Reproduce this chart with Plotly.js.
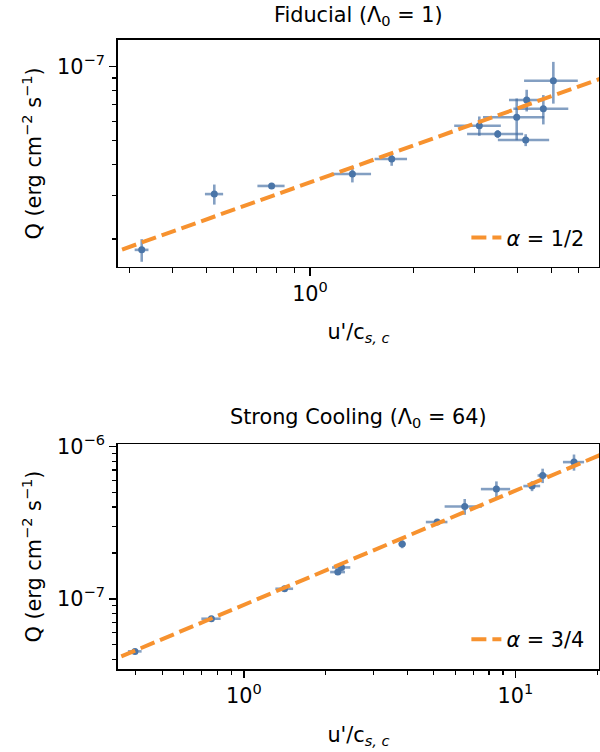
<!DOCTYPE html>
<html>
<head>
<meta charset="utf-8">
<script src="https://cdn.plot.ly/plotly-3.0.1.min.js"></script>
<style>html,body{margin:0;padding:0;background:#fff;}#chart{width:600px;height:752px;}</style>
</head>
<body>
<div id="chart"></div>
<script>
// ---------- Data: Fiducial (Lambda_0 = 1) ----------
const fidX    = [0.3253, 0.528, 0.774, 1.327, 1.725, 3.096, 3.50, 3.973, 4.219, 4.247, 4.746, 5.074];
const fidXerr = [0.015, 0.032, 0.07, 0.176, 0.186, 0.478, 0.647, 0.80, 0.715, 0.473, 0.86, 0.90];
const fidY    = [1.805e-8, 3.04e-8, 3.28e-8, 3.67e-8, 4.22e-8, 5.76e-8, 5.33e-8, 6.23e-8, 5.04e-8, 7.32e-8, 6.75e-8, 8.77e-8];
const fidYerr = [0.19e-8, 0.284e-8, 0.06e-8, 0.28e-8, 0.26e-8, 0.52e-8, 0.2e-8, 1.2e-8, 0.28e-8, 0.74e-8, 0.92e-8, 1.69e-8];
const fidAlpha = 0.5;
const fidAmp   = 3.39e-8;
const fidLineX = [0.25, 8];
const fidLabel = '<i>α</i> = 1/2';
const fidTitle = 'Fiducial (Λ<sub>0</sub> = 1)';

// ---------- Data: Strong Cooling (Lambda_0 = 64) ----------
const scX    = [0.397, 0.759, 1.412, 2.218, 2.289, 3.828, 5.15, 6.508, 8.514, 11.52, 12.6, 16.44];
const scXerr = [0.023, 0.062, 0.106, 0.14, 0.177, 0.12, 0.47, 1.02, 1.05, 0.82, 0.53, 1.47];
const scY    = [4.51e-8, 7.39e-8, 1.163e-7, 1.497e-7, 1.605e-7, 2.286e-7, 3.19e-7, 4.04e-7, 5.25e-7, 5.50e-7, 6.45e-7, 7.90e-7];
const scYerr = [0.1e-8, 0.15e-8, 0.25e-8, 0.05e-7, 0.06e-7, 0.14e-7, 0.1e-7, 0.48e-7, 0.65e-7, 0.41e-7, 0.7e-7, 0.96e-7];
const scAlpha = 0.75;
const scAmp   = 9.12e-8;
const scLineX = [0.3, 25];
const scLabel = '<i>α</i> = 3/4';
const scTitle = 'Strong Cooling (Λ<sub>0</sub> = 64)';

// ---------- Tick labels ----------
const topXTicks = [1], topXText = ['10<sup>0</sup>'];
const topYTicks = [1e-7], topYText = ['10<sup>−7</sup>'];
const botXTicks = [1, 10], botXText = ['10<sup>0</sup>', '10<sup>1</sup>'];
const botYTicks = [1e-7, 1e-6], botYText = ['10<sup>−7</sup>', '10<sup>−6</sup>'];
const xLabel = "u'/c<sub><i>s, c</i></sub>";
const yLabel = 'Q (erg cm<sup>−2</sup> s<sup>−1</sup>)';

function minorTicks(d0, d1) {
  const v = [];
  for (let d = d0; d <= d1; d++) for (let k = 2; k <= 9; k++) v.push(k * Math.pow(10, d));
  return v;
}

const fs = 20.8;
const markerColor = '#4a75a8';
const barColor = 'rgba(64,108,162,0.65)';
const lineColor = '#f7922f';

function errTrace(x, xe, y, ye, xa, ya) {
  return {
    type: 'scatter', mode: 'markers', x: x, y: y, xaxis: xa, yaxis: ya,
    marker: {color: markerColor, size: 7},
    error_x: {type: 'data', array: xe, color: barColor, thickness: 2.6, width: 0},
    error_y: {type: 'data', array: ye, color: barColor, thickness: 2.6, width: 0},
    showlegend: false, hoverinfo: 'x+y'
  };
}
function fitTrace(lx, amp, alpha, name, xa, ya, leg) {
  return {
    type: 'scatter', mode: 'lines', x: lx, y: lx.map(v => amp * Math.pow(v, alpha)),
    xaxis: xa, yaxis: ya, name: name, legend: leg,
    line: {color: lineColor, width: 4, dash: '15px,6px'}
  };
}

const data = [
  errTrace(fidX, fidXerr, fidY, fidYerr, 'x', 'y'),
  fitTrace(fidLineX, fidAmp, fidAlpha, fidLabel, 'x', 'y', 'legend'),
  errTrace(scX, scXerr, scY, scYerr, 'x2', 'y2'),
  fitTrace(scLineX, scAmp, scAlpha, scLabel, 'x2', 'y2', 'legend2')
];

function axisBase(extra) {
  return Object.assign({
    type: 'log', tickmode: 'array', ticks: 'outside', ticklen: 7.3, tickwidth: 1.6, tickcolor: '#000',
    showline: true, linewidth: 1.6, linecolor: '#000', mirror: true,
    showgrid: false, zeroline: false, tickfont: {size: fs, color: '#000'},
  }, extra);
}
function minorBase(vals) {
  return {tickmode: 'array', tickvals: vals, ticks: 'outside', ticklen: 4.2, tickwidth: 1.2, tickcolor: '#000', showgrid: false};
}

const plotB = 82.7, plotT = 40, plotH = 752 - plotT - plotB;
const py = p => (752 - plotB - p) / plotH;

const layout = {
  width: 600, height: 752,
  margin: {l: 118, r: 1, t: plotT, b: plotB},
  paper_bgcolor: '#fff', plot_bgcolor: '#fff',
  font: {family: 'DejaVu Sans', size: fs, color: '#000'},
  xaxis: axisBase({
    anchor: 'y', domain: [0, 1], range: [-0.5565, 0.8377],
    tickvals: topXTicks, ticktext: topXText, minor: minorBase(minorTicks(-1, 0)),
    title: {text: xLabel, font: {size: fs}, standoff: 19}
  }),
  yaxis: axisBase({
    anchor: 'x', domain: [py(267), 1], range: [-7.8126, -6.8917],
    tickvals: topYTicks, ticktext: topYText, minor: minorBase(minorTicks(-8, -7)),
    title: {text: yLabel, font: {size: fs}, standoff: 10}
  }),
  xaxis2: axisBase({
    anchor: 'y2', domain: [0, 1], range: [-0.4637, 1.308],
    tickvals: botXTicks, ticktext: botXText, minor: minorBase(minorTicks(-1, 1)),
    title: {text: xLabel, font: {size: fs}, standoff: 20}
  }),
  yaxis2: axisBase({
    anchor: 'x2', domain: [0, py(444.3)], range: [-7.4616, -5.9842],
    tickvals: botYTicks, ticktext: botYText, minor: minorBase(minorTicks(-8, -7)),
    title: {text: yLabel, font: {size: fs}, standoff: 10}
  }),
  legend: {x: 0.98, xanchor: 'right', y: py(238), yanchor: 'middle', bgcolor: 'rgba(0,0,0,0)', font: {size: fs}},
  legend2: {x: 0.98, xanchor: 'right', y: py(640), yanchor: 'middle', bgcolor: 'rgba(0,0,0,0)', font: {size: fs}},
  annotations: [
    {text: fidTitle, xref: 'paper', yref: 'paper', x: 0.5, y: py(16), xanchor: 'center', yanchor: 'middle', showarrow: false, font: {size: fs}},
    {text: scTitle, xref: 'paper', yref: 'paper', x: 0.5, y: py(418), xanchor: 'center', yanchor: 'middle', showarrow: false, font: {size: fs}}
  ]
};

Plotly.newPlot('chart', data, layout, {displayModeBar: false, staticPlot: true});
</script>
</body>
</html>
